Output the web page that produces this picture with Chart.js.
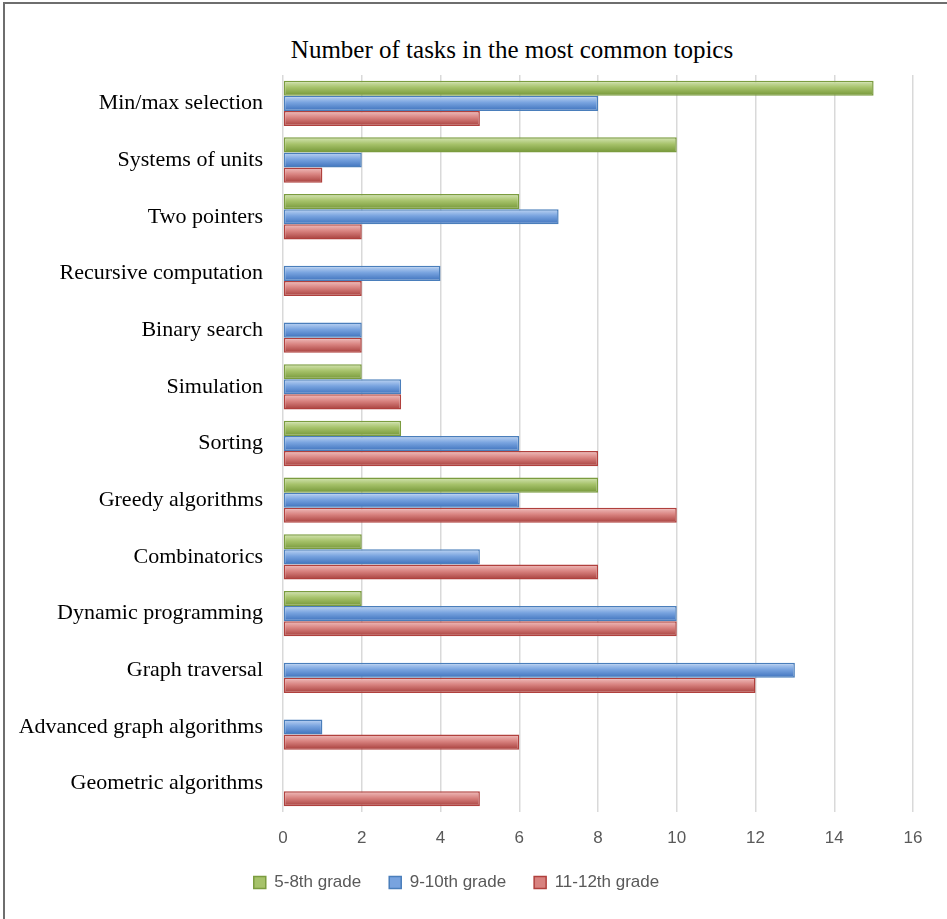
<!DOCTYPE html>
<html>
<head>
<meta charset="utf-8">
<script src="https://cdn.jsdelivr.net/npm/chart.js@4.4.0/dist/chart.umd.min.js"></script>
<style>
  html, body { margin: 0; padding: 0; background: #fff; overflow: hidden; }
  #wrap { position: relative; width: 947px; height: 919px; }
  #frame { position: absolute; left: 3px; top: 2px; width: 1000px; height: 1000px; border: 2px solid #6e6e6e; }
  #title { position: absolute; left: 0; width: 1024px; top: 36px; text-align: center;
           font: 25px 'Liberation Serif', 'Times New Roman', serif; color: #000; }
  canvas { position: absolute; left: 0; top: 0; }
</style>
</head>
<body>
<div id="wrap">
  <div id="frame"></div>
  <div id="title">Number of tasks in the most common topics</div>
  <canvas id="myChart" width="947" height="919"></canvas>
</div>
<script>
const topics = [
  'Min/max selection', 'Systems of units', 'Two pointers', 'Recursive computation',
  'Binary search', 'Simulation', 'Sorting', 'Greedy algorithms', 'Combinatorics',
  'Dynamic programming', 'Graph traversal', 'Advanced graph algorithms', 'Geometric algorithms'
];
const seriesNames = ['5-8th grade', '9-10th grade', '11-12th grade'];
const grade58   = [15, 10, 6, 0, 0, 2, 3, 8, 2, 2, 0, 0, 0];
const grade910  = [8, 2, 7, 4, 2, 3, 6, 6, 5, 10, 13, 1, 0];
const grade1112 = [5, 1, 2, 2, 2, 3, 8, 10, 8, 10, 12, 6, 5];
const xTickValues = [0, 2, 4, 6, 8, 10, 12, 14, 16];

// light top -> mid -> dark bottom, like the office 3d bars
const shades = [
  ['#d6e6b6', '#a6c26a', '#749637'],
  ['#c0d6f4', '#78a3df', '#3d71bc'],
  ['#f1c0bf', '#d8827f', '#a63e3b']
];
const borders = ['#7b9c3f', '#4a7ebb', '#b0403d'];

const shadeBars = {
  id: 'shadeBars',
  beforeDatasetsDraw(chart) {
    const c = chart.ctx;
    chart.data.datasets.forEach((ds, i) => {
      chart.getDatasetMeta(i).data.forEach(bar => {
        const top = bar.y - bar.height / 2;
        const g = c.createLinearGradient(0, top, 0, top + bar.height);
        g.addColorStop(0, shades[i][0]);
        g.addColorStop(0.45, shades[i][1]);
        g.addColorStop(1, shades[i][2]);
        bar.options = Object.assign({}, bar.options, { backgroundColor: g });
      });
    });
  }
};

const ctx = document.getElementById('myChart');

new Chart(ctx, {
  type: 'bar',
  data: {
    labels: topics,
    datasets: [grade58, grade910, grade1112].map((vals, i) => ({
      label: seriesNames[i],
      data: vals,
      backgroundColor: shades[i][1],
      borderColor: borders[i],
      borderWidth: c => (c.raw ? 1.5 : 0),
      borderSkipped: false,
      categoryPercentage: 0.8,
      barPercentage: 1
    }))
  },
  options: {
    indexAxis: 'y',
    responsive: false,
    animation: false,
    layout: { padding: { top: 75, right: 34, bottom: 18, left: 0 } },
    scales: {
      x: {
        min: 0,
        max: 16,
        afterBuildTicks: s => { s.ticks = xTickValues.map(v => ({ value: v })); },
        grid: { color: '#d9d9d9', lineWidth: 1.5, drawTicks: false },
        border: { display: false },
        ticks: {
          padding: 16,
          color: '#595959',
          font: { family: "'Liberation Sans', Arial, sans-serif", size: 17 }
        },
        afterFit: s => { s.height = 34; }
      },
      y: {
        grid: { display: false, drawTicks: false },
        border: { display: false },
        ticks: {
          padding: 20,
          color: '#000',
          font: { family: "'Liberation Serif', 'Times New Roman', serif", size: 22 }
        },
        afterFit: s => { s.width = 283; }
      }
    },
    plugins: {
      legend: {
        position: 'bottom',
        labels: {
          boxWidth: 12,
          boxHeight: 12,
          padding: 28,
          color: '#595959',
          font: { family: "'Liberation Sans', Arial, sans-serif", size: 17 }
        }
      },
      tooltip: { enabled: false }
    }
  },
  plugins: [shadeBars]
});
</script>
</body>
</html>
